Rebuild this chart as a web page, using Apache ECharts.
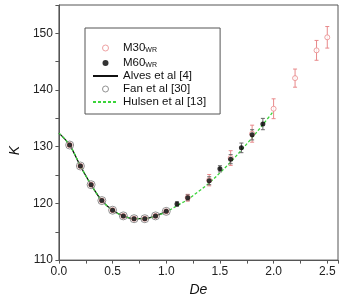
<!DOCTYPE html>
<html>
<head>
<meta charset="utf-8">
<script src="https://cdn.jsdelivr.net/npm/echarts@6/dist/echarts.min.js"></script>
<style>
  html, body { margin: 0; padding: 0; background: #fff; }
  #chart { width: 343px; height: 302px; }
</style>
</head>
<body>
<div id="chart"></div>
<script>
// values
var deLow = [0.1, 0.2, 0.3, 0.4, 0.5, 0.6, 0.7, 0.8, 0.9, 1.0];
var kLow = [130.3, 126.6, 123.3, 120.5, 118.8, 117.8, 117.3, 117.3, 117.8, 118.6];

var de30 = deLow.concat([1.2, 1.4, 1.6, 1.8, 2.0, 2.2, 2.4, 2.5]);
var k30 = kLow.concat([121.0, 124.1, 128.0, 132.3, 136.7, 142.1, 147.0, 149.3]);
var err30 = [0.2, 0.2, 0.2, 0.2, 0.2, 0.2, 0.2, 0.2, 0.2, 0.2, 0.6, 1.0, 1.3, 1.5, 1.75, 1.6, 1.75, 1.9];

var de60 = deLow.concat([1.1, 1.2, 1.4, 1.5, 1.6, 1.7, 1.8, 1.9]);
var k60 = kLow.concat([119.9, 121.0, 124.0, 126.1, 127.8, 129.8, 132.1, 134.0]);
var err60 = [0.15, 0.15, 0.15, 0.15, 0.15, 0.15, 0.15, 0.15, 0.15, 0.15, 0.4, 0.5, 0.7, 0.55, 0.8, 0.85, 0.9, 1.0];

var deFan = deLow;
var kFan = kLow;

var deAlves = [0, 0.1, 0.2, 0.3, 0.4, 0.5, 0.6, 0.7, 0.8, 0.9, 1.0];
var kAlves = [132.4, 130.3, 126.6, 123.3, 120.5, 118.8, 117.8, 117.3, 117.3, 117.8, 118.6];

var deHulsen = [0, 0.1, 0.2, 0.3, 0.4, 0.5, 0.6, 0.7, 0.8, 0.9, 1.0, 1.1, 1.2, 1.3, 1.4, 1.5, 1.6, 1.7, 1.8, 1.9, 2.0];
var kHulsen = [132.4, 130.3, 126.6, 123.3, 120.5, 118.8, 117.8, 117.3, 117.3, 117.8, 118.5, 119.6, 120.7, 122.1, 123.6, 125.4, 127.3, 129.4, 131.6, 133.9, 136.3];

function pairs(xs, ys) {
  return xs.map(function (x, i) { return [x, ys[i]]; });
}
function errs(xs, ys, es) {
  return xs.map(function (x, i) { return [x, ys[i] - es[i], ys[i] + es[i]]; });
}

// vertical error bar with small caps
function errorBar(color) {
  return function (params, api) {
    var lo = api.coord([api.value(0), api.value(1)]);
    var hi = api.coord([api.value(0), api.value(2)]);
    var w = 2;
    var st = { stroke: color, lineWidth: 1 };
    return {
      type: 'group',
      children: [
        { type: 'line', shape: { x1: lo[0], y1: lo[1], x2: hi[0], y2: hi[1] }, style: st },
        { type: 'line', shape: { x1: lo[0] - w, y1: lo[1], x2: lo[0] + w, y2: lo[1] }, style: st },
        { type: 'line', shape: { x1: hi[0] - w, y1: hi[1], x2: hi[0] + w, y2: hi[1] }, style: st }
      ]
    };
  };
}

var pink = '#e8898b';
var font = 'Liberation Sans';
var noDot = { color: 'rgba(0,0,0,0)', borderWidth: 0 };

var myChart = echarts.init(document.getElementById('chart'));
myChart.setOption({
  animation: false,
  textStyle: { fontFamily: font },
  grid: {
    left: 45, right: 5, top: 5, bottom: 31,
    show: true, borderColor: '#555', borderWidth: 1
  },
  legend: {
    orient: 'vertical',
    left: 85, top: 28,
    padding: [12, 14, 6, 7],
    borderColor: '#555', borderWidth: 1,
    itemWidth: 25, itemHeight: 6, itemGap: 1,
    data: [
      { name: 'M30', itemStyle: { borderWidth: 1 } },
      { name: 'M60' },
      { name: 'Alves et al [4]', itemStyle: noDot },
      { name: 'Fan et al [30]', itemStyle: { borderWidth: 1 } },
      { name: 'Hulsen et al [13]', itemStyle: noDot }
    ],
    formatter: function (name) {
      if (name === 'M30' || name === 'M60') return name + '{s|WR}';
      return name;
    },
    textStyle: {
      fontFamily: font, fontSize: 11.5, color: '#111', lineHeight: 12,
      rich: { s: { fontSize: 7, lineHeight: 7, padding: [7, 0, 0, 0], verticalAlign: 'bottom', color: '#111' } }
    }
  },
  xAxis: {
    type: 'value', min: 0, max: 2.6, interval: 0.25,
    name: 'De', nameLocation: 'middle', nameGap: 18,
    nameTextStyle: { fontStyle: 'italic', fontSize: 14, color: '#111', fontFamily: font },
    axisLine: { show: true, onZero: false, lineStyle: { color: '#555' } },
    axisTick: { show: true, length: 3.5, lineStyle: { color: '#555' } },
    axisLabel: {
      fontSize: 12, color: '#222', margin: 6,
      formatter: function (v) {
        return Math.abs(v * 2 - Math.round(v * 2)) < 1e-6 ? v.toFixed(1) : '';
      }
    },
    splitLine: { show: false }
  },
  yAxis: {
    type: 'value', min: 110, max: 155, interval: 5,
    name: 'K', nameLocation: 'middle', nameGap: 31, nameRotate: 90,
    nameTextStyle: { fontStyle: 'italic', fontSize: 14, color: '#111', fontFamily: font, padding: [0, 36, 0, 0] },
    axisLine: { show: true, lineStyle: { color: '#555' } },
    axisTick: { show: true, length: 3.5, lineStyle: { color: '#555' } },
    axisLabel: {
      fontSize: 12, color: '#222', margin: 6,
      formatter: function (v) { return v % 10 === 0 ? String(v) : ''; }
    },
    splitLine: { show: false }
  },
  series: [
    {
      name: 'Alves et al [4]', type: 'line', smooth: 0.35,
      data: pairs(deAlves, kAlves), symbol: 'none',
      lineStyle: { color: '#111', width: 1.3 }, itemStyle: { color: '#111' }, z: 2
    },
    {
      name: 'Hulsen et al [13]', type: 'line', smooth: 0.35,
      data: pairs(deHulsen, kHulsen), symbol: 'none',
      lineStyle: { color: '#3ad43a', width: 1.3, type: [3, 2] }, itemStyle: { color: '#3ad43a' }, z: 2
    },
    {
      name: 'M30err', type: 'custom', renderItem: errorBar(pink),
      data: errs(de30, k30, err30), z: 3, silent: true
    },
    {
      name: 'M60err', type: 'custom', renderItem: errorBar('#666'),
      data: errs(de60, k60, err60), z: 3, silent: true
    },
    {
      name: 'Fan et al [30]', type: 'scatter', symbol: 'circle', symbolSize: 8,
      data: pairs(deFan, kFan),
      itemStyle: { color: 'rgba(255,255,255,0.3)', borderColor: '#777', borderWidth: 1 }, z: 4
    },
    {
      name: 'M30', type: 'scatter', symbol: 'circle', symbolSize: 5,
      data: pairs(de30, k30),
      itemStyle: { color: '#fff', borderColor: pink, borderWidth: 1 }, z: 5
    },
    {
      name: 'M60', type: 'scatter', symbol: 'circle', symbolSize: 5,
      data: pairs(de60, k60),
      itemStyle: { color: '#000' }, z: 6
    }
  ]
});
</script>
</body>
</html>
